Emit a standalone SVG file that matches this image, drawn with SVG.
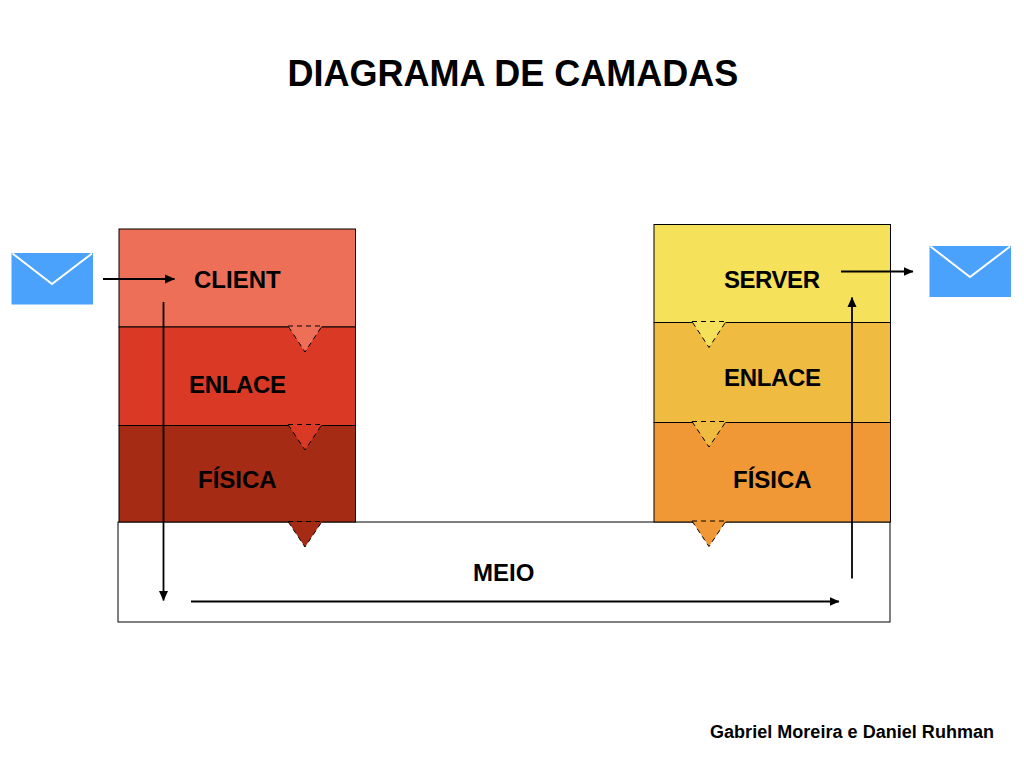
<svg xmlns="http://www.w3.org/2000/svg" width="1024" height="768" viewBox="0 0 1024 768">
<style>
text{font-family:"Liberation Sans",Arial,sans-serif;font-weight:700;fill:#000}
.l{font-size:24px}
.box{stroke:#000;stroke-width:1}
.tri{stroke:none}
.dash{fill:none;stroke:#000;stroke-width:1;stroke-dasharray:5 4}
.env{fill:#4aa2fd}
.flap{fill:none;stroke:#fff;stroke-width:2}
.c{fill:none;stroke:#000;stroke-width:1.8}
</style>
<defs>
<marker id="a" markerUnits="userSpaceOnUse" markerWidth="10" markerHeight="10" refX="9.500" refY="5" orient="auto"><path d="M0 0.500L10 5L0 9.500Z" fill="#000"/></marker>
</defs>
<rect width="1024" height="768" fill="#fff"/>
<text id="title" x="287.500" y="86" font-size="36">DIAGRAMA DE CAMADAS</text>
<g id="meio"><rect class="box" x="118" y="522" width="772" height="100" fill="#fff" stroke="#555"/><text class="l" x="473" y="581">MEIO</text></g>
<g id="client"><rect class="box" x="119" y="229" width="236.500" height="98" fill="#ed6f58"/><text class="l" x="194" y="288">CLIENT</text></g>
<g id="enlace-l"><rect class="box" x="119" y="327" width="236.500" height="98.500" fill="#da3a25"/><text class="l" x="189" y="393" textLength="97">ENLACE</text></g>
<g id="fisica-l"><rect class="box" x="119" y="425.500" width="236.500" height="96.500" fill="#a52b15"/><text class="l" x="198" y="488">FÍSICA</text></g>
<g id="server"><rect class="box" x="654" y="224.500" width="236.500" height="98" fill="#f6e15a"/><text class="l" x="724" y="288" textLength="96">SERVER</text></g>
<g id="enlace-r"><rect class="box" x="654" y="322.500" width="236.500" height="100" fill="#efbc41"/><text class="l" x="724" y="386" textLength="97">ENLACE</text></g>
<g id="fisica-r"><rect class="box" x="654" y="422.500" width="236.500" height="99.500" fill="#f09836"/><text class="l" x="733" y="488">FÍSICA</text></g>
<g id="tri-l1"><path class="tri" d="M288 326H322L305 352Z" fill="#ed6f58"/><path class="dash" d="M288 326H322L305 352Z"/></g>
<g id="tri-l2"><path class="tri" d="M288 424.500H322L305 450Z" fill="#da3a25"/><path class="dash" d="M288 424.500H322L305 450Z"/></g>
<g id="tri-l3"><path class="tri" d="M288 521.500H322L305 547Z" fill="#a52b15"/><path class="dash" d="M288 521.500H322L305 547Z"/></g>
<g id="tri-r1"><path class="tri" d="M692 321.500H726L709 347.500Z" fill="#f6e15a"/><path class="dash" d="M692 321.500H726L709 347.500Z"/></g>
<g id="tri-r2"><path class="tri" d="M692 421.500H726L709 447Z" fill="#efbc41"/><path class="dash" d="M692 421.500H726L709 447Z"/></g>
<g id="tri-r3"><path class="tri" d="M692 521H726L709 546.500Z" fill="#f09836"/><path class="dash" d="M692 521H726L709 546.500Z"/></g>
<g id="env-l"><rect class="env" x="11.500" y="253" width="81.500" height="51.500"/><path class="flap" d="M12.500 253.500L52 284L92 253.500"/></g>
<g id="env-r"><rect class="env" x="929.500" y="246" width="81.500" height="51"/><path class="flap" d="M930.500 246.500L970 277L1010 246.500"/></g>
<g id="connectors">
<path class="c" d="M103 279H174.500" marker-end="url(#a)"/>
<path class="c" d="M163.500 302V600.500" marker-end="url(#a)"/>
<path class="c" d="M191 601.500H839" marker-end="url(#a)"/>
<path class="c" d="M852 578.500V297.500" marker-end="url(#a)"/>
<path class="c" d="M841 271.500H913" marker-end="url(#a)"/>
</g>
<text id="credit" x="710" y="737.500" font-size="18" textLength="284">Gabriel Moreira e Daniel Ruhman</text>
</svg>
